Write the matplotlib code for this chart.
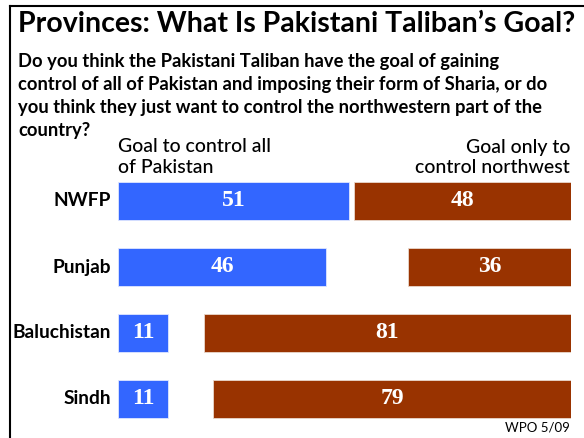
import matplotlib.pyplot as plt
import numpy as np

# Datos
provinces = ["NWFP", "Punjab", "Baluchistan", "Sindh"]
goal_all = [51, 46, 11, 11]
goal_northwest = [48, 36, 81, 79]

title = "Provinces: What Is Pakistani Taliban\u2019s Goal?"
question = ("Do you think the Pakistani Taliban have the goal of gaining\n"
            "control of all of Pakistan and imposing their form of Sharia, or do\n"
            "you think they just want to control the northwestern part of the\n"
            "country?")
left_header = "Goal to control all\nof Pakistan"
right_header = "Goal only to\ncontrol northwest"
source = "WPO 5/09"

blue = "#3366FF"
red = "#993300"
font = ["Lato", "DejaVu Sans"]

fig = plt.figure(figsize=(5.84, 4.38), dpi=100)
W, H = 584, 438

# Marco (izquierda y arriba)
fig.add_artist(plt.Line2D([9.5 / W, 9.5 / W], [0, 1 - 6 / H], color="black", lw=1.5))
fig.add_artist(plt.Line2D([9.5 / W, 1], [1 - 6 / H, 1 - 6 / H], color="black", lw=1.5))

# Título y pregunta
fig.text(18 / W, 1 - 24 / H, title, fontsize=20.5, fontweight="bold",
         family=font, va="center", ha="left")
fig.text(18 / W, 1 - 52.5 / H, question, fontsize=13.2, fontweight="bold",
         family=font, va="top", ha="left", linespacing=1.45)

# Encabezados de columnas
fig.text(118 / W, 1 - 138.5 / H, left_header, fontsize=14, fontweight="medium",
         family=font, va="top", ha="left", linespacing=1.28)
fig.text(570 / W, 1 - 138.5 / H, right_header, fontsize=14, fontweight="medium",
         family=font, va="top", ha="right", linespacing=1.28)

# Ejes de barras
ax = fig.add_axes([118 / W, 6 / H, 453 / W, 264 / H])
y = np.arange(len(provinces))
ax.barh(y, goal_all, left=0, height=0.58, color=blue, edgecolor="#dfe6ff", lw=0.6)
right_left = [100 - v for v in goal_northwest]
ax.barh(y, goal_northwest, left=right_left, height=0.58, color=red,
        edgecolor="#ead8cc", lw=0.6)

for i in range(len(provinces)):
    ax.text(goal_all[i] / 2, y[i], str(goal_all[i]), color="white",
            fontsize=17, fontweight="bold", family="Liberation Serif",
            ha="center", va="center")
    ax.text(100 - goal_northwest[i] / 2, y[i], str(goal_northwest[i]),
            color="white", fontsize=17, fontweight="bold",
            family="Liberation Serif", ha="center", va="center")
    ax.text(-1.5, y[i], provinces[i], fontsize=13.8, fontweight="bold",
            family=font, ha="right", va="center")

ax.set_xlim(0, 100)
ax.set_ylim(3.5, -0.5)
ax.axis("off")

fig.text(570 / W, 1 - 428 / H, source, fontsize=9.5, family=font,
         ha="right", va="center")

plt.savefig("out.png", dpi=100)
